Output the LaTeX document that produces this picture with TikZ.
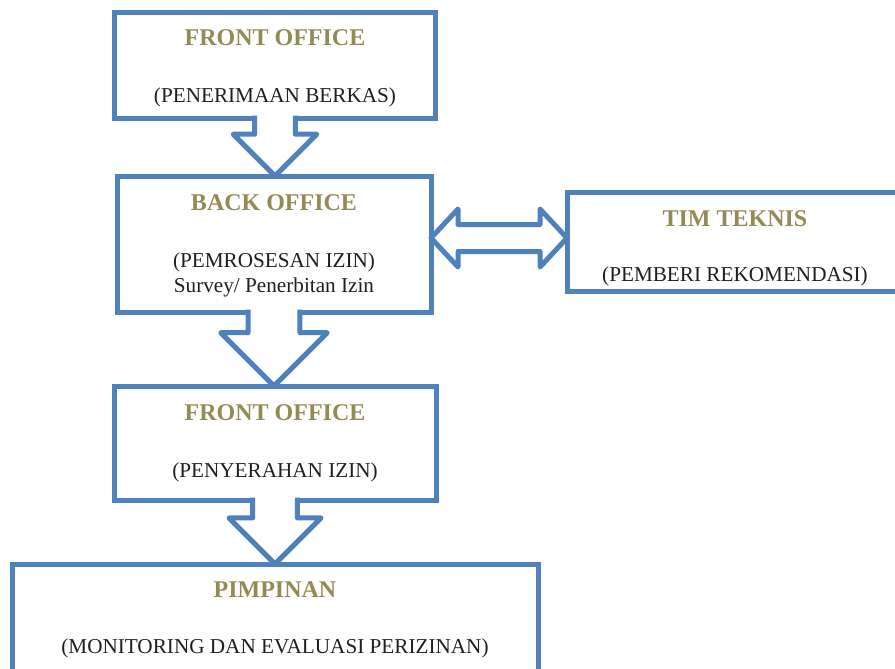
\documentclass[tikz,border=0pt]{standalone}
\usepackage{fontspec}
\setmainfont{Liberation Serif}
\usetikzlibrary{positioning,calc}
\definecolor{boxblue}{HTML}{4F81BD}
\definecolor{titlegold}{HTML}{948A54}
\newcommand{\ttl}[1]{{\color{titlegold}\bfseries\fontsize{12}{12.6}\selectfont #1}}
\tikzset{
    office/.style = {draw=boxblue, line width=2.5pt, outer sep=0pt, inner sep=0pt,
                     align=center, text=black!88, font=\fontsize{10.6}{12.6}\selectfont},
    blockarrow/.style = {draw=boxblue, line width=2.5pt, line join=round},
}
% down arrow from the bottom of one box to the top of the next
\newcommand{\flowarrow}[2]{%
  \fill[white] let \p1=(#1.south), \p2=(#2.north), \n1={\y1-\y2}, \n2={0.72*\n1}, \n3={0.35*\n1} in
    (\x1-\n3,\y1+1.25pt) -- (\x1-\n3,\y2+\n2) -- (\x1-\n2,\y2+\n2) -- (\x1,\y2)
    -- (\x1+\n2,\y2+\n2) -- (\x1+\n3,\y2+\n2) -- (\x1+\n3,\y1+1.25pt) -- cycle;
  \draw[blockarrow] let \p1=(#1.south), \p2=(#2.north), \n1={\y1-\y2}, \n2={0.72*\n1}, \n3={0.35*\n1} in
    (\x1-\n3,\y1+1.25pt) -- (\x1-\n3,\y2+\n2) -- (\x1-\n2,\y2+\n2) -- (\x1,\y2)
    -- (\x1+\n2,\y2+\n2) -- (\x1+\n3,\y2+\n2) -- (\x1+\n3,\y1+1.25pt);
}

\begin{document}
\begin{tikzpicture}
    \useasboundingbox (0,0) rectangle (447.5pt,-334.5pt);

    \node (fo1) [office, minimum width=160.75pt, minimum height=53pt] at (137.5pt,-32.5pt)
        {\rule{0pt}{11.3pt}\ttl{FRONT OFFICE}\\[15.9pt](PENERIMAAN BERKAS)};
    \node (bo) [office, below=29pt of fo1, xshift=-0.5pt, minimum width=157pt, minimum height=68pt]
        {\rule{0pt}{10pt}\ttl{BACK OFFICE}\\[15.9pt](PEMROSESAN IZIN)\\Survey/ Penerbitan Izin};
    \node (tt) [office, right=68pt of bo, yshift=1.25pt, minimum width=168pt, minimum height=49.5pt]
        {\rule{0pt}{14.3pt}\ttl{TIM TEKNIS}\\[14.9pt](PEMBERI REKOMENDASI)};
    \node (fo2) [office, below=37pt of bo, xshift=0.5pt, minimum width=161pt, minimum height=57pt]
        {\ttl{FRONT OFFICE}\\[15.9pt](PENYERAHAN IZIN)};
    \node (pim) [office, below=32pt of fo2, minimum width=263pt, minimum height=56pt]
        {\ttl{PIMPINAN}\\[15.4pt](MONITORING DAN EVALUASI PERIZINAN)};

    \flowarrow{fo1}{bo}
    \flowarrow{bo}{fo2}
    \flowarrow{fo2}{pim}

    % two-way arrow to the technical team
    \draw[blockarrow, fill=white] let \p1=(bo.east), \p2=(tt.west), \n1={\y2+1.75pt} in
        (\x1,\n1) -- (\x1+13.5pt,\n1+14.5pt) -- (\x1+13.5pt,\n1+6.75pt) -- (\x2-13.5pt,\n1+6.75pt)
        -- (\x2-13.5pt,\n1+14.5pt) -- (\x2,\n1) -- (\x2-13.5pt,\n1-14.5pt) -- (\x2-13.5pt,\n1-6.75pt)
        -- (\x1+13.5pt,\n1-6.75pt) -- (\x1+13.5pt,\n1-14.5pt) -- cycle;
\end{tikzpicture}
\end{document}
